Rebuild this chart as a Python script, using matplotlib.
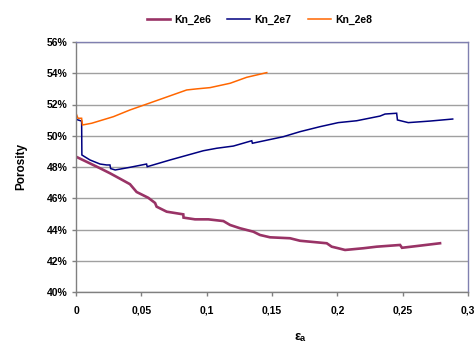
import matplotlib
matplotlib.use("Agg")
import matplotlib.pyplot as plt
from matplotlib.ticker import FuncFormatter, MultipleLocator

plt.rcParams['font.family'] = ['Liberation Sans', 'DejaVu Sans']

# axial strain vs porosity (%) for three normal stiffness values
eps_2e6 = [0.0, 0.0184, 0.026, 0.0337, 0.0413, 0.0464, 0.0553, 0.0605, 0.0617,
           0.0694, 0.0821, 0.0823, 0.0911, 0.1013, 0.1128, 0.1179, 0.1255,
           0.1357, 0.1408, 0.1485, 0.1638, 0.1714, 0.1919, 0.1957, 0.2007,
           0.2059, 0.2199, 0.2301, 0.248, 0.2495, 0.2607, 0.2786]
por_2e6 = [48.66, 47.92, 47.6, 47.25, 46.9, 46.4, 46.03, 45.7, 45.46,
           45.14, 44.97, 44.76, 44.65, 44.65, 44.54, 44.29, 44.08,
           43.86, 43.65, 43.5, 43.44, 43.28, 43.12, 42.9, 42.8,
           42.69, 42.8, 42.9, 43.01, 42.83, 42.94, 43.12]

eps_2e7 = [0.0, 0.0043, 0.0045, 0.0066, 0.0107, 0.0184, 0.0235, 0.026, 0.0265,
           0.03, 0.0413, 0.054, 0.0545, 0.072, 0.0974, 0.1077, 0.1204, 0.1345,
           0.135, 0.1587, 0.1714, 0.1867, 0.2007, 0.2148, 0.2327, 0.2365,
           0.2454, 0.246, 0.2543, 0.2709, 0.2883]
por_2e7 = [51.05, 50.94, 48.77, 48.66, 48.45, 48.19, 48.13, 48.13, 47.9,
           47.81, 47.98, 48.19, 48.02, 48.45, 49.04, 49.2, 49.34, 49.68,
           49.52, 49.94, 50.26, 50.58, 50.84, 50.96, 51.26, 51.39,
           51.44, 51.01, 50.84, 50.94, 51.07]

eps_2e8 = [0.0, 0.0015, 0.0043, 0.005, 0.012, 0.0286, 0.0413, 0.0566, 0.0847,
           0.0924, 0.1026, 0.118, 0.1306, 0.146]
por_2e8 = [51.44, 51.12, 51.12, 50.69, 50.8, 51.22, 51.65, 52.1, 52.93,
           53.0, 53.08, 53.36, 53.74, 54.04]

series = [("Kn_2e6", eps_2e6, por_2e6, "#993366", 1.9),
          ("Kn_2e7", eps_2e7, por_2e7, "#000080", 1.1),
          ("Kn_2e8", eps_2e8, por_2e8, "#FF6600", 1.1)]

x_ticks = [0, 0.05, 0.1, 0.15, 0.2, 0.25, 0.3]
x_tick_labels = ["0", "0,05", "0,1", "0,15", "0,2", "0,25", "0,3"]

fig = plt.figure(figsize=(4.76, 3.42), dpi=100)
ax = fig.add_axes([76 / 476, 50 / 342, 392 / 476, 250 / 342])

for name, x, y, color, lw in series:
    ax.plot(x, y, color=color, lw=lw, label=name, solid_joinstyle='miter')

ax.set_xlim(0, 0.3)
ax.set_ylim(40, 56)
ax.yaxis.set_major_locator(MultipleLocator(2))
ax.yaxis.set_major_formatter(FuncFormatter(lambda v, p: f"{v:.0f}%"))
ax.set_xticks(x_ticks)
ax.set_xticklabels(x_tick_labels)

ax.grid(axis='y', color='#a0a0a0', lw=1.0)
ax.set_axisbelow(True)

for side in ('left', 'bottom'):
    ax.spines[side].set_color('#808080')
for side in ('top', 'right'):
    ax.spines[side].set_color('#8080b0')
for s in ax.spines.values():
    s.set_linewidth(1.0)

ax.tick_params(axis='both', labelsize=7.5, colors='#808080', labelcolor='black',
               length=3, width=1.0, direction='out')
ax.tick_params(axis='x', pad=7)
ax.tick_params(axis='y', pad=3)
for lab in ax.get_xticklabels() + ax.get_yticklabels():
    lab.set_fontweight('bold')

ax.set_ylabel("Porosity", fontsize=8.5, fontweight='bold', labelpad=14)
fig.text(300 / 476, 1 - 331 / 342, "εₐ", ha='center', va='top',
         fontsize=9.5, fontweight='bold')

fig.legend(loc='center', bbox_to_anchor=(0.545, 1 - 20 / 342), ncol=3,
           frameon=False, prop={'weight': 'bold', 'size': 7.5},
           handlelength=2.2, handletextpad=0.4, columnspacing=1.6)

fig.savefig("out.png", dpi=100)
